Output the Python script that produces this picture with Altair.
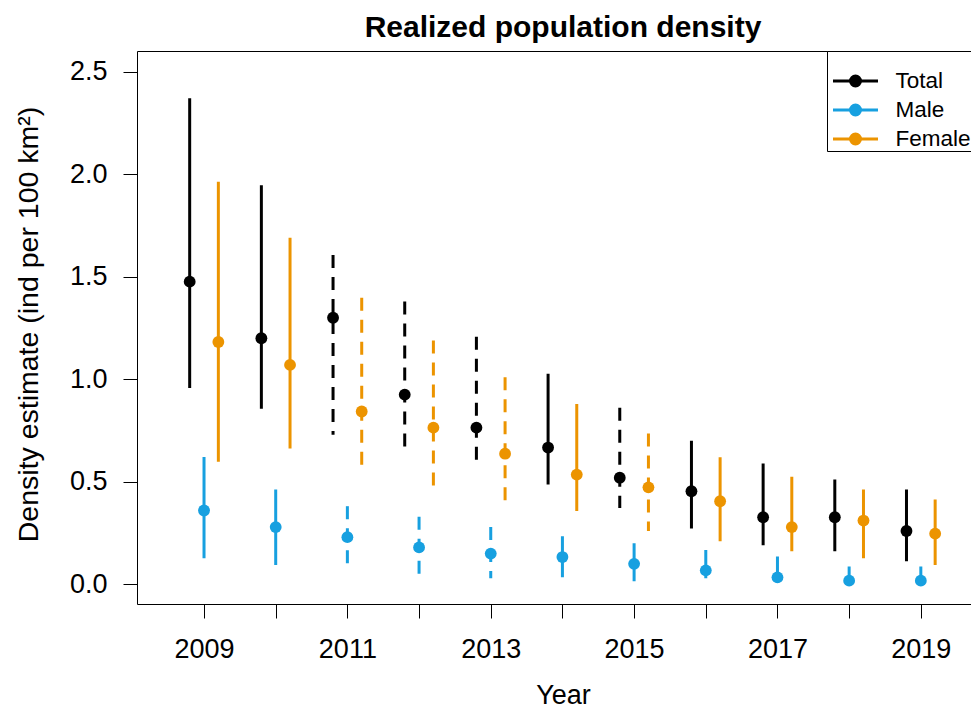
import altair as alt
import pandas as pd

# ---- data ----
years = list(range(2009, 2020))

total_est = [1.476, 1.20, 1.30, 0.925, 0.764, 0.667, 0.52, 0.454, 0.327, 0.327, 0.26]
total_lo = [0.958, 0.856, 0.73, 0.633, 0.564, 0.487, 0.372, 0.272, 0.191, 0.161, 0.112]
total_hi = [2.371, 1.946, 1.606, 1.379, 1.207, 1.027, 0.861, 0.70, 0.589, 0.511, 0.462]

male_est = [0.36, 0.279, 0.23, 0.18, 0.15, 0.133, 0.10, 0.068, 0.034, 0.018, 0.018]
male_lo = [0.127, 0.094, 0.078, 0.045, 0.03, 0.034, 0.015, 0.03, 0.008, 0.0, 0.0]
male_hi = [0.621, 0.462, 0.381, 0.329, 0.28, 0.235, 0.20, 0.167, 0.136, 0.087, 0.087]

female_est = [1.182, 1.07, 0.843, 0.764, 0.637, 0.535, 0.473, 0.405, 0.279, 0.311, 0.247]
female_lo = [0.598, 0.662, 0.551, 0.472, 0.386, 0.357, 0.26, 0.21, 0.161, 0.127, 0.094]
female_hi = [1.963, 1.69, 1.397, 1.189, 1.01, 0.88, 0.735, 0.62, 0.525, 0.462, 0.414]

series_names = ["Total", "Male", "Female"]
series_colors = ["#000000", "#17A0E0", "#EC9400"]
dashed_years = {
    "Total": [2011, 2012, 2013, 2015],
    "Male": [2011, 2012, 2013],
    "Female": [2011, 2012, 2013, 2015],
}
offsets = {"Total": -0.2, "Male": 0.0, "Female": 0.2}

rows = []
for name, est, lo, hi in [
    ("Total", total_est, total_lo, total_hi),
    ("Male", male_est, male_lo, male_hi),
    ("Female", female_est, female_lo, female_hi),
]:
    for i, yr in enumerate(years):
        rows.append(
            dict(
                series=name,
                year=yr,
                pos=yr + offsets[name],
                est=est[i],
                lo=lo[i],
                hi=hi[i],
                style="dashed" if yr in dashed_years[name] else "solid",
            )
        )
df = pd.DataFrame(rows)

FONT = "Liberation Sans"

x_scale = alt.Scale(domain=[2008.065, 2019.70], nice=False, zero=False)
y_scale = alt.Scale(domain=[-0.096, 2.601], nice=False, zero=False)
color_scale = alt.Scale(domain=series_names, range=series_colors)

sym_path = "M-1.8,0H1.8M0.4,0A0.4,0.4,0,1,1,-0.4,0A0.4,0.4,0,1,1,0.4,0Z"

legend = alt.Legend(
    title=" ",
    titleFontSize=12,
    titlePadding=4,
    orient="none",
    legendX=690,
    legendY=0,
    padding=0,
    strokeColor="black",
    fillColor="white",
    cornerRadius=0,
    symbolType=sym_path,
    symbolSize=625,
    symbolStrokeWidth=3,
    symbolOffset=14.5,
    labelOffset=26,
    labelFontSize=22.5,
    labelFont=FONT,
    labelColor="black",
    rowPadding=3,
    labelExpr="datum.label + '    '",
)

x_axis = alt.Axis(
    title="Year",
    values=years,
    format="d",
    labelExpr="datum.value % 2 == 1 ? datum.label : ''",
    grid=False,
    domain=True,
    domainColor="black",
    domainWidth=1,
    tickSize=14,
    tickColor="black",
    tickWidth=1,
    labelFontSize=27,
    labelFont=FONT,
    labelColor="black",
    labelBaseline="alphabetic",
    labelPadding=39,
    labelFlush=False,
    labelOverlap=False,
    titleFontSize=27,
    titleFont=FONT,
    titleFontWeight="normal",
    titleColor="black",
    titleBaseline="alphabetic",
    titleAlign="center",
    titleX=426,
    titleY=99,
)

x_axis_top = alt.Axis(
    orient="top",
    title=None,
    labels=False,
    ticks=False,
    grid=False,
    domain=True,
    domainColor="black",
    domainWidth=1,
)

y_axis = alt.Axis(
    title="Density estimate (ind per 100 km²)",
    values=[0, 0.5, 1.0, 1.5, 2.0, 2.5],
    format=".1f",
    grid=False,
    domain=True,
    domainColor="black",
    domainWidth=1,
    tickSize=14,
    tickColor="black",
    tickWidth=1,
    labelFontSize=27,
    labelFont=FONT,
    labelColor="black",
    labelPadding=16,
    labelFlush=False,
    labelOverlap=False,
    titleFontSize=28.5,
    titleFont=FONT,
    titleFontWeight="normal",
    titleColor="black",
    titleAngle=270,
    titleBaseline="alphabetic",
    titleAlign="center",
    titleX=-100,
    titleY=273,
)

base = alt.Chart(df)

rules = base.mark_rule(strokeWidth=3, strokeCap="butt").encode(
    x=alt.X("pos:Q", scale=x_scale, axis=x_axis),
    y=alt.Y("hi:Q", scale=y_scale, axis=y_axis),
    y2="lo:Q",
    stroke=alt.Stroke("series:N", scale=color_scale, legend=legend),
    strokeDash=alt.StrokeDash(
        "style:N",
        scale=alt.Scale(domain=["solid", "dashed"], range=[[1, 0], [13, 9]]),
        legend=None,
    ),
)

points = base.mark_circle(size=140, opacity=1).encode(
    x=alt.X("pos:Q", scale=x_scale, axis=x_axis_top),
    y=alt.Y("est:Q", scale=y_scale, axis=y_axis),
    fill=alt.Fill("series:N", scale=color_scale, legend=legend),
)

chart = (
    alt.layer(rules, points)
    .resolve_axis(x="independent")
    .properties(
        width=834,
        height=553,
        autosize=alt.AutoSizeParams(type="none"),
        padding={"left": 129, "top": 43, "right": 0, "bottom": 106},
        title=alt.TitleParams(
            "Realized population density",
            fontSize=30,
            fontWeight="bold",
            font=FONT,
            color="black",
            anchor="middle",
            dx=9,
            offset=8,
        ),
    )
    .configure(background="white")
    .configure_view(stroke=None)
)

chart.save("out.html", embed_options={"renderer": "svg", "actions": False})
